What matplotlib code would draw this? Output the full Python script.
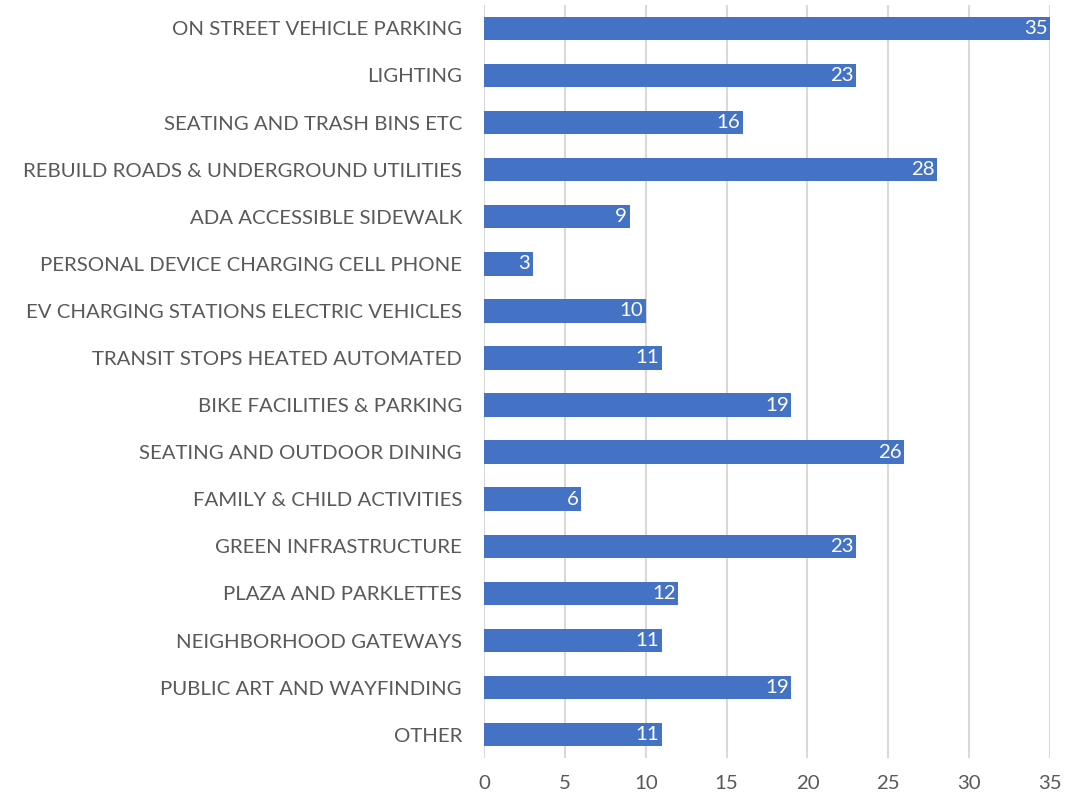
import matplotlib.pyplot as plt

categories = [
    "ON STREET VEHICLE PARKING",
    "LIGHTING",
    "SEATING AND TRASH BINS ETC",
    "REBUILD ROADS & UNDERGROUND UTILITIES",
    "ADA ACCESSIBLE SIDEWALK",
    "PERSONAL DEVICE CHARGING CELL PHONE",
    "EV CHARGING STATIONS ELECTRIC VEHICLES",
    "TRANSIT STOPS HEATED AUTOMATED",
    "BIKE FACILITIES & PARKING",
    "SEATING AND OUTDOOR DINING",
    "FAMILY & CHILD ACTIVITIES",
    "GREEN INFRASTRUCTURE",
    "PLAZA AND PARKLETTES",
    "NEIGHBORHOOD GATEWAYS",
    "PUBLIC ART AND WAYFINDING",
    "OTHER",
]
values = [35, 23, 16, 28, 9, 3, 10, 11, 19, 26, 6, 23, 12, 11, 19, 11]
xticks = [0, 5, 10, 15, 20, 25, 30, 35]

plt.rcParams['font.family'] = ['Lato', 'DejaVu Sans']
text_grey = '#595959'

fig = plt.figure(figsize=(10.88, 7.99), dpi=100)
ax = fig.add_axes([0.445, 0.051, 0.52, 0.943])

pos = list(range(len(categories)))
bars = ax.barh(pos, values, height=0.5, color='#4472C4', zorder=3)

# value labels inside the bar end
for b, v in zip(bars, values):
    ax.text(b.get_width() - 0.15, b.get_y() + b.get_height() / 2, str(v),
            ha='right', va='center', color='white', fontsize=14.7, zorder=4)

ax.set_yticks(pos)
ax.set_yticklabels(categories, fontsize=14.7, color=text_grey)
ax.set_ylim(len(categories) - 0.5, -0.5)
ax.set_xlim(0, 35)
ax.set_xticks(xticks)
ax.set_xticklabels([str(t) for t in xticks], fontsize=14.7, color=text_grey)

ax.grid(axis='x', color='#D9D9D9', linewidth=1.5, zorder=0)
for s in ax.spines.values():
    s.set_visible(False)
ax.tick_params(axis='both', length=0)
ax.tick_params(axis='y', pad=16)
ax.tick_params(axis='x', pad=12)

fig.savefig('out.png', dpi=100)
